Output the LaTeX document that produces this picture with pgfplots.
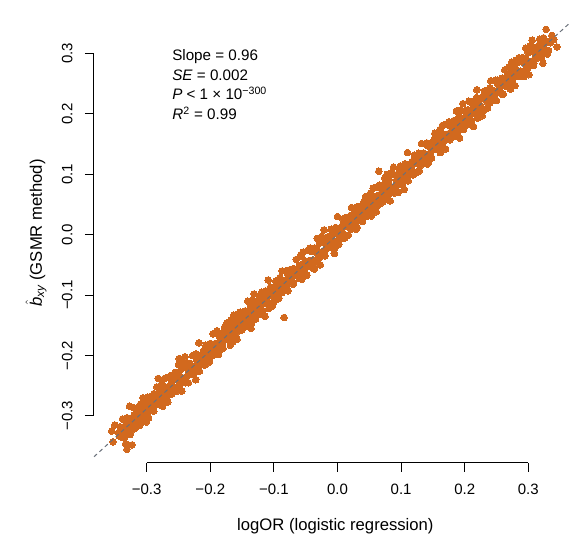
\documentclass[border=0pt]{standalone}
\usepackage{pgfplots}
\pgfplotsset{compat=1.18}
\usepackage{amsmath}
\usepackage{fontspec}
\setmainfont{Liberation Sans}
\definecolor{dotcol}{HTML}{D2691E}
\definecolor{linecol}{RGB}{105,112,122}
\begin{document}
\begin{tikzpicture}
\begin{axis}[
  scale only axis, width=358.5pt, height=330.75pt,
  xmin=-0.38286, xmax=0.36871, ymin=-0.37790, ymax=0.35224,
  axis x line*=bottom, axis y line*=left,
  axis line style={draw=none},
  tick align=outside, major tick length=6.75pt,
  tick style={black, line width=0.75pt},
  xtick={-0.3,-0.2,-0.1,0,0.1,0.2,0.3},
  ytick={-0.3,-0.2,-0.1,0,0.1,0.2,0.3},
  xticklabels={−0.3,−0.2,−0.1,0.0,0.1,0.2,0.3},
  yticklabels={−0.3,−0.2,−0.1,0.0,0.1,0.2,0.3},
  tick label style={font=\fontsize{11.25}{13}\selectfont},
  yticklabel style={rotate=90, anchor=south},
  xticklabel shift=5.8pt, yticklabel shift=5.8pt,
  xlabel={logOR (logistic regression)},
  ylabel={$\hat{\text{\itshape b}}_{\text{\itshape xy}}$ (GSMR method)},
  label style={font=\fontsize{12.5}{15}\selectfont},
  xlabel style={at={(axis description cs:0.505,-0.144)}, anchor=center},
  ylabel style={at={(axis description cs:-0.1213,0.5215)}, anchor=center},
  clip=false, clip marker paths=true,
]
\addplot[only marks, mark=*, color=dotcol, mark size=2.5pt, mark options={draw=dotcol, fill=dotcol, line width=0pt}] table {
x y
-0.344 -0.328
-0.343 -0.333
-0.342 -0.318
-0.340 -0.335
-0.339 -0.325
-0.338 -0.305
-0.336 -0.323
-0.335 -0.336
-0.334 -0.306
-0.333 -0.346
-0.331 -0.303
-0.330 -0.313
-0.329 -0.325
-0.327 -0.284
-0.326 -0.331
-0.325 -0.305
-0.324 -0.309
-0.322 -0.310
-0.321 -0.310
-0.320 -0.299
-0.318 -0.320
-0.317 -0.295
-0.316 -0.287
-0.315 -0.300
-0.313 -0.316
-0.312 -0.291
-0.311 -0.316
-0.309 -0.285
-0.308 -0.290
-0.307 -0.306
-0.306 -0.270
-0.304 -0.301
-0.303 -0.287
-0.302 -0.286
-0.300 -0.291
-0.299 -0.295
-0.298 -0.269
-0.297 -0.303
-0.295 -0.272
-0.294 -0.268
-0.293 -0.285
-0.291 -0.286
-0.290 -0.272
-0.289 -0.292
-0.288 -0.266
-0.286 -0.275
-0.285 -0.276
-0.284 -0.252
-0.282 -0.278
-0.281 -0.268
-0.280 -0.271
-0.279 -0.262
-0.277 -0.277
-0.276 -0.246
-0.275 -0.284
-0.273 -0.257
-0.272 -0.238
-0.271 -0.267
-0.270 -0.264
-0.268 -0.253
-0.267 -0.277
-0.266 -0.236
-0.264 -0.256
-0.263 -0.252
-0.262 -0.233
-0.261 -0.264
-0.259 -0.238
-0.258 -0.253
-0.257 -0.239
-0.255 -0.258
-0.254 -0.231
-0.253 -0.254
-0.252 -0.240
-0.250 -0.215
-0.249 -0.248
-0.248 -0.249
-0.246 -0.223
-0.245 -0.259
-0.244 -0.213
-0.243 -0.238
-0.241 -0.237
-0.240 -0.202
-0.239 -0.245
-0.237 -0.215
-0.236 -0.234
-0.235 -0.224
-0.234 -0.229
-0.232 -0.213
-0.231 -0.231
-0.230 -0.221
-0.228 -0.200
-0.227 -0.218
-0.226 -0.231
-0.225 -0.201
-0.223 -0.240
-0.222 -0.198
-0.221 -0.208
-0.219 -0.219
-0.218 -0.179
-0.217 -0.226
-0.216 -0.200
-0.214 -0.203
-0.213 -0.205
-0.212 -0.206
-0.210 -0.194
-0.209 -0.216
-0.208 -0.191
-0.207 -0.183
-0.205 -0.195
-0.204 -0.212
-0.203 -0.186
-0.201 -0.210
-0.200 -0.180
-0.199 -0.185
-0.198 -0.201
-0.196 -0.164
-0.195 -0.196
-0.194 -0.182
-0.192 -0.180
-0.191 -0.186
-0.190 -0.190
-0.189 -0.164
-0.187 -0.198
-0.186 -0.168
-0.185 -0.164
-0.183 -0.180
-0.182 -0.182
-0.181 -0.168
-0.180 -0.188
-0.178 -0.161
-0.177 -0.170
-0.176 -0.171
-0.174 -0.146
-0.173 -0.173
-0.172 -0.163
-0.171 -0.166
-0.169 -0.156
-0.168 -0.172
-0.167 -0.141
-0.165 -0.178
-0.164 -0.152
-0.163 -0.133
-0.162 -0.163
-0.160 -0.159
-0.159 -0.149
-0.158 -0.173
-0.156 -0.131
-0.155 -0.152
-0.154 -0.148
-0.153 -0.128
-0.151 -0.158
-0.150 -0.133
-0.149 -0.148
-0.147 -0.133
-0.146 -0.153
-0.145 -0.126
-0.144 -0.149
-0.142 -0.134
-0.141 -0.110
-0.140 -0.143
-0.138 -0.143
-0.137 -0.119
-0.136 -0.155
-0.135 -0.109
-0.133 -0.133
-0.132 -0.133
-0.131 -0.098
-0.129 -0.140
-0.128 -0.110
-0.127 -0.129
-0.126 -0.119
-0.124 -0.123
-0.123 -0.108
-0.122 -0.126
-0.120 -0.115
-0.119 -0.095
-0.118 -0.113
-0.117 -0.126
-0.115 -0.095
-0.114 -0.135
-0.113 -0.093
-0.111 -0.103
-0.110 -0.115
-0.109 -0.075
-0.108 -0.122
-0.106 -0.095
-0.105 -0.099
-0.104 -0.101
-0.102 -0.100
-0.101 -0.089
-0.100 -0.111
-0.099 -0.086
-0.097 -0.077
-0.096 -0.090
-0.095 -0.107
-0.093 -0.080
-0.092 -0.105
-0.091 -0.075
-0.090 -0.080
-0.088 -0.095
-0.087 -0.060
-0.086 -0.092
-0.084 -0.077
-0.083 -0.076
-0.082 -0.082
-0.081 -0.086
-0.079 -0.059
-0.078 -0.093
-0.077 -0.063
-0.075 -0.058
-0.074 -0.075
-0.073 -0.077
-0.072 -0.063
-0.070 -0.082
-0.069 -0.056
-0.068 -0.065
-0.066 -0.065
-0.065 -0.041
-0.064 -0.068
-0.063 -0.058
-0.061 -0.061
-0.060 -0.052
-0.059 -0.068
-0.057 -0.036
-0.056 -0.074
-0.055 -0.048
-0.054 -0.029
-0.052 -0.057
-0.051 -0.054
-0.050 -0.044
-0.048 -0.067
-0.047 -0.026
-0.046 -0.047
-0.045 -0.043
-0.043 -0.022
-0.042 -0.053
-0.041 -0.028
-0.039 -0.042
-0.038 -0.028
-0.037 -0.049
-0.036 -0.022
-0.034 -0.044
-0.033 -0.030
-0.032 -0.006
-0.030 -0.038
-0.029 -0.039
-0.028 -0.014
-0.027 -0.050
-0.025 -0.003
-0.024 -0.028
-0.023 -0.028
-0.021 0.008
-0.020 -0.035
-0.019 -0.005
-0.018 -0.024
-0.016 -0.013
-0.015 -0.018
-0.014 -0.003
-0.012 -0.021
-0.011 -0.011
-0.010 0.009
-0.009 -0.009
-0.007 -0.021
-0.006 0.009
-0.005 -0.031
-0.003 0.012
-0.002 0.002
-0.001 -0.010
0.000 0.030
0.002 -0.016
0.003 0.010
0.004 0.006
0.006 0.005
0.007 0.005
0.008 0.016
0.009 -0.006
0.011 0.020
0.012 0.028
0.013 0.014
0.015 -0.002
0.016 0.024
0.017 -0.001
0.018 0.029
0.020 0.025
0.021 0.009
0.022 0.045
0.024 0.014
0.025 0.028
0.026 0.029
0.027 0.023
0.029 0.020
0.030 0.046
0.031 0.012
0.033 0.043
0.034 0.047
0.035 0.030
0.036 0.028
0.038 0.042
0.039 0.022
0.040 0.048
0.042 0.040
0.043 0.039
0.044 0.063
0.045 0.036
0.047 0.047
0.048 0.044
0.049 0.053
0.051 0.038
0.052 0.069
0.053 0.031
0.054 0.057
0.056 0.077
0.057 0.048
0.058 0.051
0.060 0.062
0.061 0.038
0.062 0.079
0.063 0.057
0.065 0.062
0.066 0.082
0.067 0.051
0.069 0.077
0.070 0.062
0.071 0.076
0.072 0.056
0.074 0.084
0.075 0.061
0.076 0.075
0.078 0.100
0.079 0.067
0.080 0.066
0.081 0.091
0.083 0.056
0.084 0.102
0.085 0.077
0.087 0.078
0.088 0.112
0.089 0.069
0.090 0.099
0.092 0.081
0.093 0.091
0.094 0.086
0.096 0.102
0.097 0.084
0.098 0.094
0.099 0.114
0.101 0.097
0.102 0.084
0.103 0.114
0.105 0.075
0.106 0.117
0.107 0.107
0.108 0.095
0.110 0.136
0.111 0.089
0.112 0.115
0.114 0.111
0.115 0.109
0.116 0.109
0.117 0.120
0.119 0.099
0.120 0.124
0.121 0.132
0.123 0.120
0.124 0.103
0.125 0.129
0.126 0.104
0.128 0.135
0.129 0.130
0.130 0.114
0.132 0.151
0.133 0.119
0.134 0.133
0.135 0.134
0.137 0.129
0.138 0.124
0.139 0.150
0.141 0.117
0.142 0.147
0.143 0.151
0.144 0.134
0.146 0.133
0.147 0.147
0.148 0.127
0.150 0.154
0.151 0.145
0.152 0.144
0.153 0.168
0.155 0.142
0.156 0.152
0.157 0.149
0.159 0.159
0.160 0.143
0.161 0.174
0.162 0.136
0.164 0.162
0.165 0.181
0.166 0.152
0.168 0.156
0.169 0.166
0.170 0.142
0.171 0.183
0.173 0.163
0.174 0.167
0.175 0.187
0.177 0.157
0.178 0.182
0.179 0.167
0.180 0.181
0.182 0.162
0.183 0.189
0.184 0.166
0.186 0.181
0.187 0.205
0.188 0.171
0.189 0.170
0.191 0.196
0.192 0.160
0.193 0.206
0.195 0.182
0.196 0.182
0.197 0.217
0.198 0.174
0.200 0.205
0.201 0.186
0.202 0.196
0.204 0.192
0.205 0.207
0.206 0.189
0.207 0.199
0.209 0.220
0.210 0.202
0.211 0.189
0.213 0.219
0.214 0.179
0.215 0.221
0.216 0.211
0.218 0.200
0.219 0.240
0.220 0.193
0.222 0.220
0.223 0.216
0.224 0.214
0.225 0.214
0.227 0.226
0.228 0.204
0.229 0.229
0.231 0.238
0.232 0.225
0.233 0.208
0.234 0.234
0.236 0.210
0.237 0.240
0.238 0.234
0.240 0.219
0.241 0.255
0.242 0.223
0.243 0.237
0.245 0.239
0.246 0.233
0.247 0.229
0.249 0.256
0.250 0.222
0.251 0.252
0.252 0.256
0.254 0.240
0.255 0.238
0.256 0.252
0.258 0.233
0.259 0.259
0.260 0.250
0.261 0.249
0.263 0.273
0.264 0.246
0.265 0.256
0.267 0.254
0.268 0.263
0.269 0.247
0.270 0.278
0.272 0.241
0.273 0.267
0.274 0.286
0.276 0.258
0.277 0.261
0.278 0.271
0.279 0.247
0.281 0.289
0.282 0.268
0.283 0.272
0.285 0.293
0.286 0.262
0.287 0.287
0.288 0.271
0.290 0.286
0.291 0.266
0.292 0.293
0.294 0.271
0.295 0.285
0.296 0.309
0.297 0.276
0.299 0.276
0.300 0.301
0.301 0.265
0.303 0.312
0.304 0.287
0.305 0.287
0.306 0.322
0.308 0.280
0.309 0.310
0.310 0.291
0.312 0.302
0.313 0.296
0.314 0.311
0.315 0.293
0.317 0.304
0.318 0.324
0.319 0.306
0.321 0.294
0.322 0.324
0.323 0.284
0.324 0.326
0.326 0.317
0.327 0.305
0.328 0.340
0.330 0.299
-0.331 -0.355
-0.323 -0.348
-0.353 -0.343
-0.350 -0.315
-0.355 -0.325
-0.249 -0.205
-0.282 -0.238
-0.084 -0.137
0.065 0.105
0.345 0.311
0.340 0.323
0.337 0.330
0.335 0.318
0.332 0.305
-0.3395 -0.329
-0.3365 -0.318
-0.3335 -0.333
-0.3305 -0.314
-0.3275 -0.314
-0.3245 -0.325
-0.3215 -0.286
-0.3185 -0.320
-0.3155 -0.299
-0.3125 -0.305
-0.3095 -0.280
-0.3065 -0.300
-0.3035 -0.282
-0.3005 -0.310
-0.2975 -0.275
-0.2945 -0.284
-0.2915 -0.289
-0.2885 -0.263
-0.2855 -0.282
-0.2825 -0.270
-0.2795 -0.270
-0.2765 -0.257
-0.2735 -0.261
-0.2705 -0.252
-0.2675 -0.274
-0.2645 -0.252
-0.2615 -0.246
-0.2585 -0.260
-0.2555 -0.228
-0.2525 -0.259
-0.2495 -0.231
-0.2465 -0.240
-0.2435 -0.221
-0.2405 -0.238
-0.2375 -0.213
-0.2345 -0.245
-0.2315 -0.217
-0.2285 -0.223
-0.2255 -0.221
-0.2225 -0.198
-0.2195 -0.223
-0.2165 -0.208
-0.2135 -0.201
-0.2105 -0.192
-0.2075 -0.203
-0.2045 -0.191
-0.2015 -0.206
-0.1985 -0.187
-0.1955 -0.187
-0.1925 -0.198
-0.1895 -0.159
-0.1865 -0.194
-0.1835 -0.173
-0.1805 -0.179
-0.1775 -0.153
-0.1745 -0.173
-0.1715 -0.155
-0.1685 -0.183
-0.1655 -0.148
-0.1625 -0.157
-0.1595 -0.163
-0.1565 -0.137
-0.1535 -0.155
-0.1505 -0.143
-0.1475 -0.143
-0.1445 -0.130
-0.1415 -0.134
-0.1385 -0.125
-0.1355 -0.148
-0.1325 -0.126
-0.1295 -0.119
-0.1265 -0.133
-0.1235 -0.101
-0.1205 -0.132
-0.1175 -0.104
-0.1145 -0.113
-0.1115 -0.095
-0.1085 -0.112
-0.1055 -0.087
-0.1025 -0.118
-0.0995 -0.090
-0.0965 -0.096
-0.0935 -0.094
-0.0905 -0.071
-0.0875 -0.096
-0.0845 -0.082
-0.0815 -0.075
-0.0785 -0.065
-0.0755 -0.076
-0.0725 -0.064
-0.0695 -0.079
-0.0665 -0.060
-0.0635 -0.060
-0.0605 -0.072
-0.0575 -0.033
-0.0545 -0.067
-0.0515 -0.046
-0.0485 -0.052
-0.0455 -0.026
-0.0425 -0.046
-0.0395 -0.028
-0.0365 -0.057
-0.0335 -0.022
-0.0305 -0.031
-0.0275 -0.036
-0.0245 -0.010
-0.0215 -0.028
-0.0185 -0.016
-0.0155 -0.016
-0.0125 -0.003
-0.0095 -0.008
-0.0065 0.001
-0.0035 -0.021
-0.0005 0.001
0.0025 0.008
0.0055 -0.006
0.0085 0.026
0.0115 -0.005
0.0145 0.022
0.0175 0.013
0.0205 0.032
0.0235 0.015
0.0265 0.040
0.0295 0.009
0.0325 0.037
0.0355 0.031
0.0385 0.032
0.0415 0.055
0.0445 0.030
0.0475 0.045
0.0505 0.052
0.0535 0.062
0.0565 0.051
0.0595 0.063
0.0625 0.048
0.0655 0.066
0.0685 0.066
0.0715 0.055
0.0745 0.094
0.0775 0.060
0.0805 0.081
0.0835 0.075
0.0865 0.101
0.0895 0.080
0.0925 0.098
0.0955 0.070
0.0985 0.105
0.1015 0.096
0.1045 0.091
0.1075 0.117
0.1105 0.099
0.1135 0.110
0.1165 0.110
0.1195 0.123
0.1225 0.119
0.1255 0.128
0.1285 0.106
0.1315 0.128
0.1345 0.135
0.1375 0.121
0.1405 0.152
0.1435 0.121
0.1465 0.149
0.1495 0.140
0.1525 0.159
0.1555 0.142
0.1585 0.167
0.1615 0.136
0.1645 0.163
0.1675 0.157
0.1705 0.159
0.1735 0.182
0.1765 0.157
0.1795 0.172
0.1825 0.179
0.1855 0.189
0.1885 0.177
0.1915 0.189
0.1945 0.174
0.1975 0.193
0.2005 0.193
0.2035 0.182
0.2065 0.221
0.2095 0.187
0.2125 0.208
0.2155 0.201
0.2185 0.227
0.2215 0.207
0.2245 0.225
0.2275 0.197
0.2305 0.232
0.2335 0.223
0.2365 0.218
0.2395 0.243
0.2425 0.225
0.2455 0.237
0.2485 0.237
0.2515 0.250
0.2545 0.246
0.2575 0.255
0.2605 0.233
0.2635 0.254
0.2665 0.261
0.2695 0.247
0.2725 0.279
0.2755 0.248
0.2785 0.276
0.2815 0.267
0.2845 0.286
0.2875 0.269
0.2905 0.293
0.2935 0.262
0.2965 0.290
0.2995 0.284
0.3025 0.286
0.3055 0.309
0.3085 0.284
0.3115 0.299
0.3145 0.305
0.3175 0.315
0.3205 0.304
0.3235 0.316
0.3265 0.301
0.3295 0.320
};
\addplot[color=linecol, line width=0.75pt, dash pattern=on 3pt off 2.5pt] coordinates {(-0.38286,-0.36755) (0.36692,0.35224)};
\draw[line width=0.75pt] (axis cs:-0.3,-0.37790) -- (axis cs:0.3,-0.37790);
\draw[line width=0.75pt] (axis cs:-0.38286,-0.3) -- (axis cs:-0.38286,0.3);
\node[anchor=base west, inner sep=0pt, font=\fontsize{11.4}{13.7}\selectfont] at (axis cs:-0.2602,0.2893) {Slope = 0.96};
\node[anchor=base west, inner sep=0pt, font=\fontsize{11.4}{13.7}\selectfont] at (axis cs:-0.2602,0.2562) {\textit{SE} = 0.002};
\node[anchor=base west, inner sep=0pt, font=\fontsize{11.4}{13.7}\selectfont] at (axis cs:-0.2602,0.2231) {\textit{P} < 1 × 10\textsuperscript{−300}};
\node[anchor=base west, inner sep=0pt, font=\fontsize{11.4}{13.7}\selectfont] at (axis cs:-0.2602,0.1900) {\textit{R}\textsuperscript{2} = 0.99};
\coordinate (bbl) at (axis cs:-0.53066,-0.49876);
\coordinate (btr) at (axis cs:0.375,0.38866);
\end{axis}
\pgfresetboundingbox
\path[use as bounding box] (bbl) rectangle (btr);
\end{tikzpicture}
\end{document}
